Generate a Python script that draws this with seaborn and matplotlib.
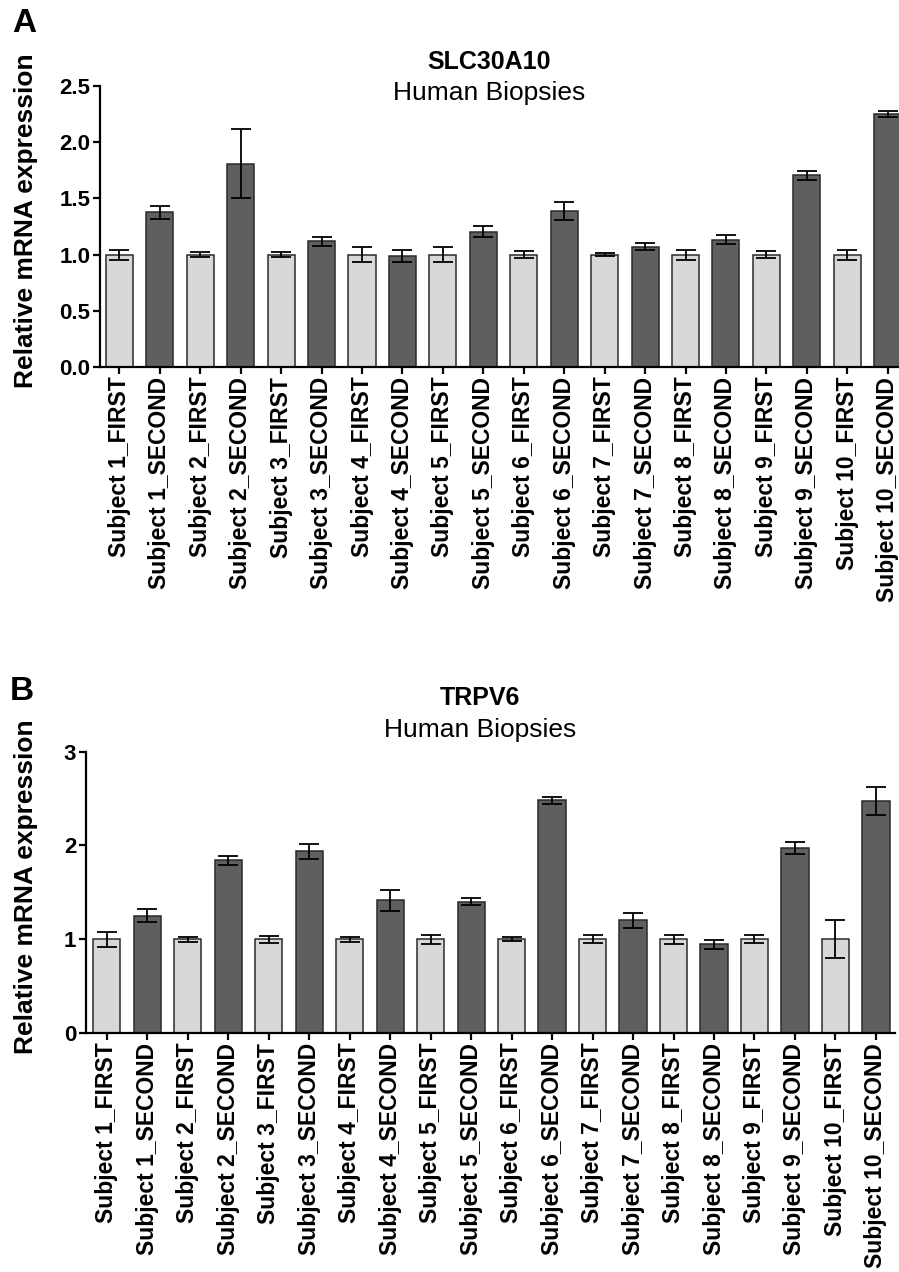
import numpy as np
import pandas as pd
import matplotlib
matplotlib.use("Agg")
import matplotlib.pyplot as plt
import seaborn as sns

sns.set_theme(style="white")
plt.rcParams['font.family'] = ['Liberation Sans', 'DejaVu Sans']
plt.rcParams['text.color'] = 'black'
plt.rcParams['axes.labelcolor'] = 'black'
plt.rcParams['xtick.color'] = 'black'
plt.rcParams['ytick.color'] = 'black'

subjects = [f"Subject {i}" for i in range(1, 11)]
labels = []
groups = []
for s in subjects:
    labels += [f"{s}_FIRST", f"{s}_SECOND"]
    groups += ["FIRST", "SECOND"]

slc_vals = [1.00, 1.376, 1.00, 1.81, 1.00, 1.12, 1.00, 0.99, 1.00, 1.204,
            1.00, 1.39, 1.00, 1.07, 1.00, 1.13, 1.00, 1.708, 1.00, 2.25]
slc_err = [0.045, 0.06, 0.025, 0.31, 0.025, 0.04, 0.07, 0.055, 0.065, 0.05,
           0.03, 0.078, 0.01, 0.03, 0.045, 0.04, 0.03, 0.04, 0.045, 0.03]

trpv_vals = [1.00, 1.25, 1.00, 1.84, 1.00, 1.937, 1.00, 1.415, 1.00, 1.40,
             1.00, 2.48, 1.00, 1.20, 1.00, 0.946, 1.00, 1.976, 1.00, 2.47]
trpv_err = [0.08, 0.07, 0.025, 0.05, 0.035, 0.08, 0.025, 0.115, 0.05, 0.04,
            0.02, 0.035, 0.04, 0.08, 0.05, 0.045, 0.045, 0.064, 0.20, 0.15]

palette = {"FIRST": "#d8d8d8", "SECOND": "#5f5f5f"}

W, H = 899, 1272
fig = plt.figure(figsize=(W / 100, H / 100), dpi=100)

def panel(rect, vals, errs, ylim, yticks, yticklabels, xlim, gene, letter, letter_xy, title_y, label_x):
    ax = fig.add_axes(rect)
    df = pd.DataFrame({"label": labels, "value": vals, "group": groups})
    sns.barplot(data=df, x="label", y="value", hue="group", palette=palette,
                dodge=False, legend=False, width=0.67, edgecolor="#2a2a2a",
                linewidth=1.1, errorbar=None, ax=ax, order=labels)
    ax.errorbar(np.arange(len(labels)), vals, yerr=errs, fmt="none",
                ecolor="black", elinewidth=1.3, capsize=7.2, capthick=1.3, zorder=5)
    ax.set_ylim(*ylim)
    ax.set_xlim(*xlim)
    ax.set_yticks(yticks)
    ax.set_yticklabels(yticklabels, fontsize=16, fontweight="bold")
    ax.set_xticks(np.arange(len(labels)))
    ax.set_xticklabels(labels, rotation=90, fontsize=16.5, fontweight="bold")
    ax.set_xlabel("")
    ax.set_ylabel("Relative mRNA expression", fontsize=19, fontweight="bold")
    ax.yaxis.set_label_coords(label_x, 0.52)
    for sp in ["top", "right"]:
        ax.spines[sp].set_visible(False)
    for sp in ["left", "bottom"]:
        ax.spines[sp].set_color("black")
        ax.spines[sp].set_linewidth(1.6)
    ax.tick_params(axis="both", which="both", direction="out", length=5,
                   width=1.6, color="black", labelcolor="black", pad=2,
                   bottom=True, left=True)
    ax.text(0.487, title_y[0], gene, transform=ax.transAxes, ha="center",
            va="center", fontsize=18, fontweight="bold")
    ax.text(0.487, title_y[1], "Human Biopsies", transform=ax.transAxes,
            ha="center", va="center", fontsize=19)
    fig.text(letter_xy[0] / W, 1 - letter_xy[1] / H, letter, fontsize=24,
             fontweight="bold", ha="center", va="center")
    return ax

# Panel A
panel([100 / W, 1 - 367 / H, 799 / W, 281 / H], slc_vals, slc_err,
      (0, 2.5), [0, 0.5, 1.0, 1.5, 2.0, 2.5],
      ["0.0", "0.5", "1.0", "1.5", "2.0", "2.5"],
      (-0.48, 19.28), "SLC30A10", "A", (24, 23),
      ((367 - 62) / 281, (367 - 93) / 281), -0.078)

# Panel B
panel([86 / W, 1 - 1033 / H, 809 / W, 281.3 / H], trpv_vals, trpv_err,
      (0, 3), [0, 1, 2, 3], ["0", "1", "2", "3"],
      (-0.51, 19.47), "TRPV6", "B", (22, 691),
      ((1033 - 698) / 281.3, (1033 - 730) / 281.3), -0.059)

fig.savefig("out.png", dpi=100)
